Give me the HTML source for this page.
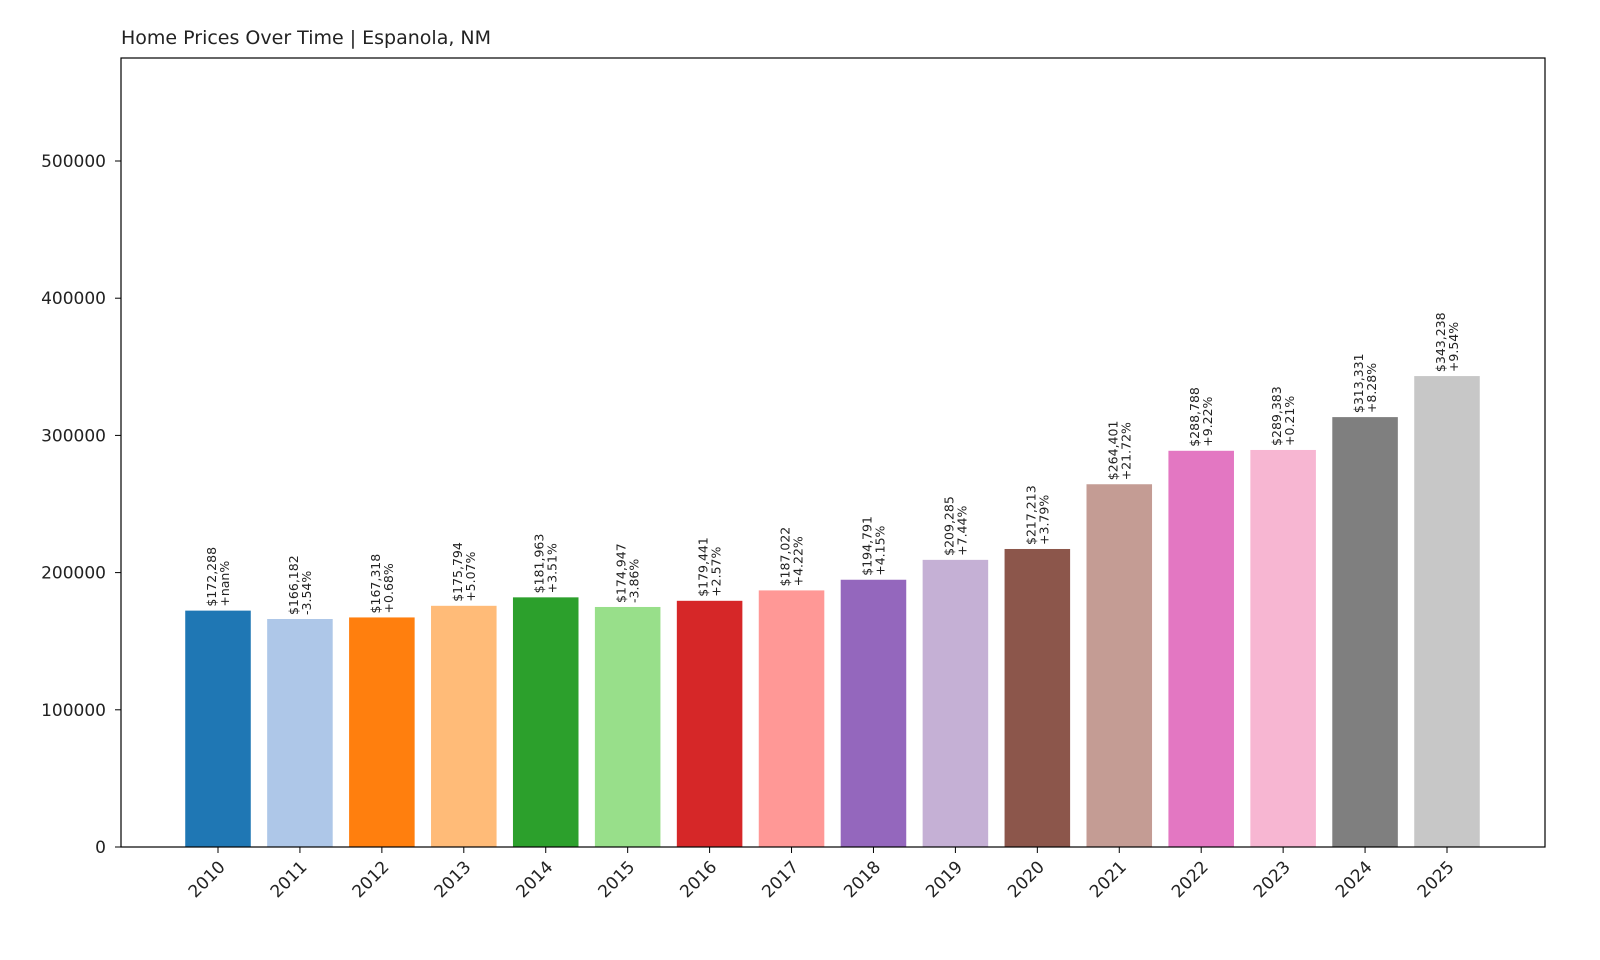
<!DOCTYPE html>
<html><head><meta charset="utf-8"><style>
html,body{margin:0;padding:0;width:1600px;height:960px;overflow:hidden;background:#fff;font-family:"Liberation Sans","DejaVu Sans",sans-serif;}
svg{display:block;}
svg text{font-family:"DejaVu Sans","Liberation Sans",sans-serif;}
</style></head><body>
<svg id="chart" width="1600" height="960" viewBox="0 0 1600 960" xmlns="http://www.w3.org/2000/svg">
<rect width="1600" height="960" fill="#fff"/>
<text x="121" y="44" font-size="19" fill="#222">Home Prices Over Time | Espanola, NM</text>
<g id="bars"></g>
<rect x="121" y="58" width="1424" height="789" fill="none" stroke="#000" stroke-width="1.2"/>
</svg>
<script>
const years=["2010","2011","2012","2013","2014","2015","2016","2017","2018","2019","2020","2021","2022","2023","2024","2025"];
const prices=[172288,166182,167318,175794,181963,174947,179441,187022,194791,209285,217213,264401,288788,289383,313331,343238];
const changes=["+nan%","-3.54%","+0.68%","+5.07%","+3.51%","-3.86%","+2.57%","+4.22%","+4.15%","+7.44%","+3.79%","+21.72%","+9.22%","+0.21%","+8.28%","+9.54%"];
const yTicks=[0,100000,200000,300000,400000,500000];
const colors=["#1f77b4","#aec7e8","#ff7f0e","#ffbb78","#2ca02c","#98df8a","#d62728","#ff9896","#9467bd","#c5b0d5","#8c564b","#c49c94","#e377c2","#f7b6d2","#7f7f7f","#c7c7c7"];
const NS="http://www.w3.org/2000/svg";
const g=document.getElementById('bars');
const y0=847,yPerUnit=(847-161)/500000;
const yS=v=>y0-v*yPerUnit;
const step=(1447-218)/15;
const xS=i=>218+i*step;
const bw=0.8*step;
function mk(t,a,p){const e=document.createElementNS(NS,t);for(const k in a)e.setAttribute(k,a[k]);(p||g).appendChild(e);return e;}
yTicks.forEach(v=>{
 const l=mk('line',{x1:115,x2:121,y1:yS(v),y2:yS(v),stroke:'#000'});
 
 
 const t=mk('text',{x:106,y:yS(v)+6,'text-anchor':'end','font-size':17,fill:'#222'});
 t.textContent=v;
 
 
});
years.forEach((yr,i)=>{
 const x=xS(i),top=yS(prices[i]);
 const r=mk('rect',{x:x-bw/2,y:top,width:bw,height:y0-top,fill:colors[i]});
 
 
 const tk=mk('line',{x1:x,x2:x,y1:847,y2:853,stroke:'#000'});
 
 
 const xl=mk('text',{transform:`translate(${x+8},${868}) rotate(-45)`,'text-anchor':'end','font-size':17,fill:'#222'});
 xl.textContent=yr;
 
 
 const lab=mk('text',{transform:`translate(${x},${top-4}) rotate(-90)`,'font-size':12.5,fill:'#222'});
 
 
 const t1=mk('tspan',{x:0,dy:-2},lab);t1.textContent='$'+prices[i].toLocaleString('en-US');
 const t2=mk('tspan',{x:0,dy:13},lab);t2.textContent=changes[i];
});
</script>
</body></html>
